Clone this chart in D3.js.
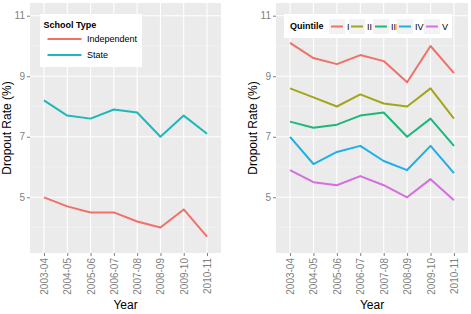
<!DOCTYPE html>
<html lang="en">
<head>
<meta charset="UTF-8">
<title>Dropout Rate by School Type and Quintile</title>
<script src="https://d3js.org/d3.v7.min.js"></script>
<style>
    body { margin: 0; background: #fff; }
    svg { font-family: "Liberation Sans", Arial, sans-serif; }
</style>
</head>
<body>
<div id="chart"></div>
<script>
    // data
    const years = ["2003-04", "2004-05", "2005-06", "2006-07", "2007-08", "2008-09", "2009-10", "2010-11"];
    const yTicks = [5, 7, 9, 11];

    const schoolTypes = ["Independent", "State"];
    const independent = [5.0, 4.7, 4.5, 4.5, 4.2, 4.0, 4.6, 3.7];
    const state = [8.2, 7.7, 7.6, 7.9, 7.8, 7.0, 7.7, 7.1];

    const quintiles = ["I", "II", "III", "IV", "V"];
    const q1 = [10.1, 9.6, 9.4, 9.7, 9.5, 8.8, 10.0, 9.1];
    const q2 = [8.6, 8.3, 8.0, 8.4, 8.1, 8.0, 8.6, 7.6];
    const q3 = [7.5, 7.3, 7.4, 7.7, 7.8, 7.0, 7.6, 6.7];
    const q4 = [7.0, 6.1, 6.5, 6.7, 6.2, 5.9, 6.7, 5.8];
    const q5 = [5.9, 5.5, 5.4, 5.7, 5.4, 5.0, 5.6, 4.9];

    const W = 471, H = 314;
    const svg = d3.select("#chart").append("svg")
        .attr("width", W).attr("height", H);

    const panelTop = 3, panelBottom = 253;
    const yDomain = [3.16, 11.42];

    function drawPanel(left, right, seriesNames, seriesValues, colors, legendTitle, horizontal) {
        const g = svg.append("g");

        const x = d3.scalePoint().domain(years)
            .range([left, right]).padding(0.6);
        const y = d3.scaleLinear().domain(yDomain).range([panelBottom, panelTop]);

        // panel background
        g.append("rect")
            .attr("x", left).attr("y", panelTop)
            .attr("width", right - left).attr("height", panelBottom - panelTop)
            .attr("fill", "#ebebeb");

        // minor grid
        const minor = [4, 6, 8, 10];
        g.selectAll(".minor").data(minor).join("line")
            .attr("x1", left).attr("x2", right)
            .attr("y1", d => y(d)).attr("y2", d => y(d))
            .attr("stroke", "#f5f5f5").attr("stroke-width", 0.6);

        // major grid
        g.selectAll(".hmajor").data(yTicks).join("line")
            .attr("x1", left).attr("x2", right)
            .attr("y1", d => y(d)).attr("y2", d => y(d))
            .attr("stroke", "#fff").attr("stroke-width", 1.1);
        g.selectAll(".vmajor").data(years).join("line")
            .attr("y1", panelTop).attr("y2", panelBottom)
            .attr("x1", d => x(d)).attr("x2", d => x(d))
            .attr("stroke", "#fff").attr("stroke-width", 1.1);

        // axes
        const yAxis = g.append("g")
            .attr("transform", `translate(${left},0)`)
            .call(d3.axisLeft(y).tickValues(yTicks).tickSize(3).tickPadding(2));
        yAxis.select(".domain").remove();
        yAxis.selectAll("line").attr("stroke", "#7f7f7f");
        yAxis.selectAll("text").attr("fill", "#7f7f7f").style("font-size", "10px");

        const xAxis = g.append("g")
            .attr("transform", `translate(0,${panelBottom})`)
            .call(d3.axisBottom(x).tickSize(3).tickPadding(2));
        xAxis.select(".domain").remove();
        xAxis.selectAll("line").attr("stroke", "#7f7f7f");
        xAxis.selectAll("text")
            .attr("fill", "#7f7f7f").style("font-size", "10px")
            .attr("transform", "rotate(-90)")
            .attr("text-anchor", "end")
            .attr("x", -5).attr("y", 0).attr("dy", "0.35em");

        // axis titles
        g.append("text")
            .attr("x", (left + right) / 2).attr("y", 309)
            .attr("text-anchor", "middle")
            .style("font-size", "12px")
            .text("Year");
        g.append("text")
            .attr("transform", `translate(${left - 19},${(panelTop + panelBottom) / 2}) rotate(-90)`)
            .attr("text-anchor", "middle")
            .style("font-size", "12px")
            .text("Dropout Rate (%)");

        // lines
        const line = d3.line().x((d, i) => x(years[i])).y(d => y(d));
        seriesValues.forEach((vals, i) => {
            g.append("path")
                .datum(vals)
                .attr("fill", "none")
                .attr("stroke", colors[i])
                .attr("stroke-width", 2)
                .attr("stroke-linejoin", "round")
                .attr("d", line);
        });

        // legend
        const lg = g.append("g");
        if (!horizontal) {
            lg.append("rect").attr("x", 40).attr("y", 14).attr("width", 102).attr("height", 53).attr("fill", "#fff");
            lg.append("text").attr("x", 43.5).attr("y", 27.5)
                .style("font-size", "9px").style("font-weight", "bold").text(legendTitle);
            seriesNames.forEach((name, i) => {
                const yy = 39 + i * 16;
                lg.append("line").attr("x1", 47.5).attr("x2", 81.5)
                    .attr("y1", yy).attr("y2", yy)
                    .attr("stroke", colors[i]).attr("stroke-width", 2);
                lg.append("text").attr("x", 87).attr("y", yy).attr("dy", "0.35em")
                    .style("font-size", "9px").text(name);
            });
        } else {
            lg.append("rect").attr("x", 284).attr("y", 14).attr("width", 168).attr("height", 24).attr("fill", "#fff");
            lg.append("text").attr("x", 290).attr("y", 26).attr("dy", "0.35em")
                .style("font-size", "9px").style("font-weight", "bold").text(legendTitle);
            const keyX = [329, 349, 373, 397, 424];
            seriesNames.forEach((name, i) => {
                const kx = keyX[i];
                lg.append("rect").attr("x", kx).attr("y", 19).attr("width", 16).attr("height", 15).attr("fill", "#f2f2f2");
                lg.append("line").attr("x1", kx + 2).attr("x2", kx + 14)
                    .attr("y1", 26.5).attr("y2", 26.5)
                    .attr("stroke", colors[i]).attr("stroke-width", 2);
                lg.append("text").attr("x", kx + 18).attr("y", 26.5).attr("dy", "0.35em")
                    .style("font-size", "9px").text(name);
            });
        }
    }

    drawPanel(30, 221, schoolTypes, [independent, state], ["#f0706a", "#1fb8b9"], "School Type", false);
    drawPanel(276, 468, quintiles, [q1, q2, q3, q4, q5],
        ["#f0706a", "#a3a51a", "#1bb87a", "#1faee8", "#d46fdc"], "Quintile", true);
</script>
</body>
</html>
